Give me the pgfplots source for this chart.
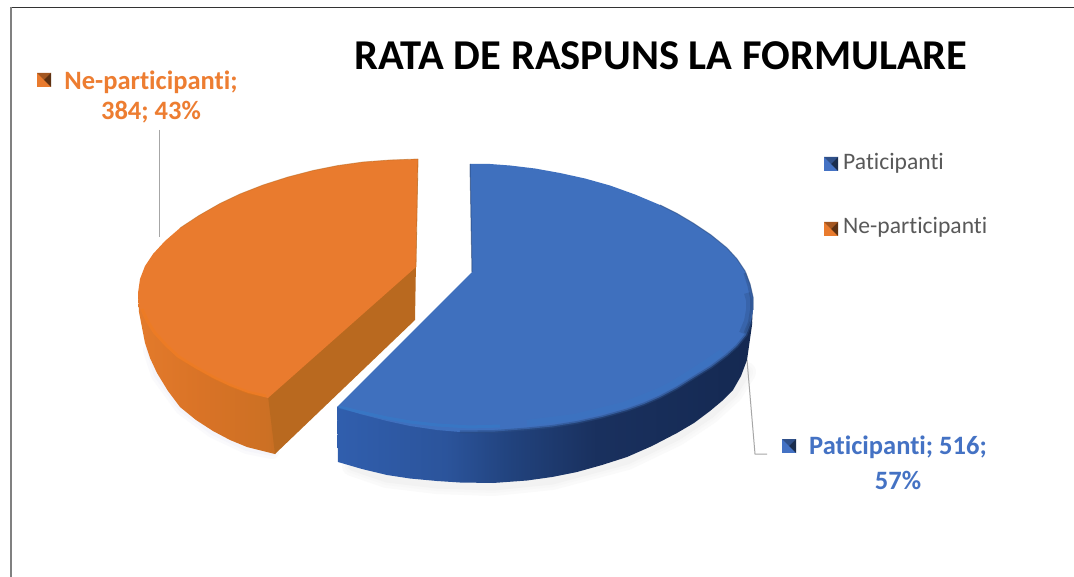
\documentclass[border=0pt]{standalone}
\usepackage{fontspec}
\setmainfont[Ligatures=NoCommon]{Carlito}
\usepackage{pgfplots}
\pgfplotsset{compat=1.18}
\definecolor{bluetop}{HTML}{3F70BE}
\definecolor{orangetop}{HTML}{E97B2E}
\definecolor{bluetxt}{HTML}{4472C4}
\definecolor{orangetxt}{HTML}{ED7D31}
\definecolor{legtxt}{HTML}{595959}
\definecolor{flatside}{HTML}{B9691F}
\pgfdeclarehorizontalshading{bluesideB}{100bp}{
 rgb(0bp)=(0.19,0.37,0.68);
 rgb(25bp)=(0.19,0.37,0.68);
 rgb(38bp)=(0.17,0.33,0.61);
 rgb(46bp)=(0.13,0.26,0.49);
 rgb(56bp)=(0.10,0.19,0.37);
 rgb(75bp)=(0.08,0.16,0.32);
 rgb(100bp)=(0.08,0.16,0.32)}
\pgfdeclarehorizontalshading{orangeside}{100bp}{
 rgb(0bp)=(0.89,0.48,0.17);
 rgb(25bp)=(0.89,0.48,0.17);
 rgb(45bp)=(0.85,0.45,0.15);
 rgb(65bp)=(0.80,0.44,0.14);
 rgb(75bp)=(0.74,0.41,0.13);
 rgb(100bp)=(0.74,0.41,0.13)}
% small bevelled key square: x0 x1 xm y0 y1 ym colour
\newcommand{\keysq}[7]{%
 \addplot[draw=none,fill=#7] coordinates {(#1,#4) (#2,#4) (#2,#5) (#1,#5)} -- cycle;
 \addplot[draw=none,fill=black!30!#7] coordinates {(#1,#4) (#2,#4) (#3,#6)} -- cycle;
 \addplot[draw=none,fill=black!60!#7] coordinates {(#2,#4) (#2,#5) (#3,#6)} -- cycle;
}
\begin{document}
\begin{tikzpicture}
\begin{axis}[
  scale only axis, width=1074pt, height=577pt,
  xmin=0, xmax=1074, ymin=0, ymax=577, y dir=reverse,
  hide axis, clip=true]
% page
\addplot[draw=none,fill=white] coordinates {(0,0) (1074,0) (1074,577) (0,577)} -- cycle;
% chart frame
\addplot[draw=black!80,line width=1.5pt] coordinates {(11,7.5) (1074,7.5)};
\addplot[draw=black!50,line width=2pt] coordinates {(11,7) (11,577)};
% shadows: soft layers
\addplot[draw=black!2,line width=20pt,line join=round,line cap=round] coordinates {(352,466) (387,478) (437,484) (493,486) (552,480) (627,460) (677,436) (710,414) (733,393) (746,372)};
\addplot[draw=black!3,line width=14pt,line join=round,line cap=round] coordinates {(352,466) (387,478) (437,484) (493,486) (552,480) (627,460) (677,436) (710,414) (733,393) (746,372)};
\addplot[draw=black!5,line width=9pt,line join=round,line cap=round] coordinates {(352,466) (387,478) (437,484) (493,486) (552,480) (627,460) (677,436) (710,414) (733,393) (746,372)};
\addplot[draw=blue!50!black!2,line width=14pt,line join=round,line cap=round] coordinates {(150,350) (158,375) (182,408) (213,431) (247,447) (272,452)};
\addplot[draw=blue!50!black!4,line width=8pt,line join=round,line cap=round] coordinates {(150,350) (158,375) (182,408) (213,431) (247,447) (272,452)};
% leader lines
\addplot[draw=black!35,line width=1pt] coordinates {(159,130) (159,237)};
\addplot[draw=black!35,line width=1pt] coordinates {(747,360) (755,454) (767,454)};
% orange slice (384; 43%)
\addplot[draw=none,shading=orangeside] coordinates {(138,295) (139,312) (145,343) (150,358) (157,373) (168,391) (180,407) (196,420) (213,431) (230,440) (247,447) (275,454) (290,400) (300,300)} -- cycle;
\addplot[draw=none,fill=flatside] coordinates {(416,262) (415,320) (275,454) (268,396)} -- cycle;
\addplot[draw=none,fill=orangetop] coordinates {(416,267) (418,159) (390,160) (363,162) (338,165.5) (313,170.5) (288,177) (263,185) (240,194) (220,203.5) (199,215.5) (180,228) (165,241) (153,254) (145,266) (140,279) (138,293) (138.5,301) (140,309) (146,322) (153,333) (165,346) (177,357) (195,368) (213,378) (230,386) (247,392.5) (268,398)} -- cycle;
\addplot[draw=orange!70!orangetop,line width=3pt,opacity=.25,line join=round] coordinates {(142,309) (148,322) (155,333) (167,346) (179,357) (197,368) (215,378) (232,386) (249,392.5) (266,396)};
\addplot[draw=flatside,line width=.8pt,opacity=.7] coordinates {(418,159) (416,267)};
\addplot[draw=flatside,line width=.8pt,opacity=.5,line join=round] coordinates {(418,159) (390,160) (363,162) (338,165.5) (313,170.5) (288,177) (263,185) (240,194) (220,203.5) (199,215.5) (180,228)};
% blue slice (516; 57%)
\addplot[draw=none,shading=bluesideB] coordinates {(753,303) (752,325) (747,360) (741,376) (733,390) (722,401) (710,411) (694,423) (677,433) (652,446) (627,457) (602,465) (577,472) (552,477) (527,480.5) (493,483) (460,482.5) (437,481) (410,478.5) (387,475) (362,469) (338,462) (337,407) (400,380) (600,350)} -- cycle;
\addplot[draw=none,fill=bluetop] coordinates {(472,272) (470,164) (490,164) (510,165.5) (535,168.5) (560,173) (585,178.5) (610,185.5) (635,194.5) (660,205) (677,213.5) (693,223) (711,235) (727,248) (737,259) (745,271) (750,284) (753,297) (753,310) (751,322) (746,335) (737,346) (727,355) (711,367) (693,378) (677,388) (660,397) (644,404) (627,410) (602,417) (577,422.5) (552,426.5) (527,429) (495,431.5) (460,432) (437,430) (410,426) (387,421) (360,414) (337,407)} -- cycle;
% soft edge between top and side
\addplot[draw=bluetop!70!black,line width=3pt,opacity=.5,line join=round] coordinates {(751,322) (746,335) (737,346) (727,355) (711,367) (693,378) (677,388) (660,397) (644,404) (627,410) (602,417) (577,422.5) (552,426.5) (527,429) (495,431.5) (460,432)};
\addplot[draw=blue!25!cyan!25!bluetop,line width=6pt,opacity=.15,line join=round] coordinates {(722,352) (706,363) (689,374) (673,384) (657,392) (624,405) (575,417) (527,423)};
\addplot[draw=blue!30!cyan!30!bluetop,line width=3pt,opacity=.35,line join=round] coordinates {(339,407) (360,412) (387,418) (410,422) (437,425) (470,427) (500,426)};
\addplot[draw=black!40!bluetop,line width=1pt,opacity=.6,line join=round] coordinates {(472,272) (470,164)};
\addplot[draw=black!30!bluetop,line width=1pt,opacity=.6,line join=round] coordinates {(660,205) (677,213.5) (693,223) (711,235) (727,248) (737,259) (745,271) (750,284) (753,297) (753,310)};
\addplot[draw=black!50!bluetop,line width=3pt,opacity=.25,line join=round] coordinates {(745,273) (749,286) (751.5,298) (751.5,310) (749.5,322) (745,333)};
\addplot[draw=black!50!bluetop,line width=6pt,opacity=.2,line join=round] coordinates {(747,293) (749,300) (749,310) (747,321) (742,333)};
% keys
\keysq{37}{51}{44}{73}{87}{80}{orangetop}
\keysq{824}{838}{831}{157}{171}{164}{bluetxt}
\keysq{824}{838}{831}{222}{236}{229}{orangetop}
\keysq{782}{796}{789}{439}{453}{446}{bluetxt}
% text
\node[font=\fontsize{42.5}{44}\selectfont\bfseries,text=black] at (axis cs:661,56) {RATA DE RASPUNS LA FORMULARE};
\node[font=\fontsize{26.5}{28}\selectfont\bfseries,text=orangetxt] at (axis cs:151,82) {Ne-participanti;};
\node[font=\fontsize{26.5}{28}\selectfont\bfseries,text=orangetxt] at (axis cs:151,112) {384; 43\%};
\node[font=\fontsize{26.5}{28}\selectfont\bfseries,text=bluetxt] at (axis cs:898,447) {Paticipanti; 516;};
\node[font=\fontsize{26.5}{28}\selectfont\bfseries,text=bluetxt] at (axis cs:898,480) {57\%};
\node[font=\fontsize{23.6}{25}\selectfont,text=legtxt,anchor=west,inner xsep=0pt] at (axis cs:843,163) {Paticipanti};
\node[font=\fontsize{23.6}{25}\selectfont,text=legtxt,anchor=west,inner xsep=0pt] at (axis cs:843,227) {Ne-participanti};
\end{axis}
\end{tikzpicture}
\end{document}
